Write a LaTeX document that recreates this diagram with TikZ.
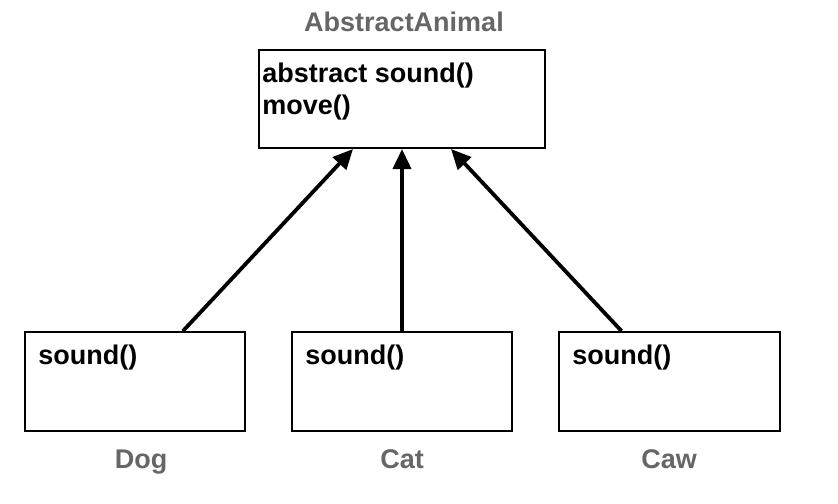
\documentclass[tikz,border=0pt]{standalone}
\usepackage{fontspec}
\setmainfont{Liberation Sans}
\usetikzlibrary{arrows.meta}
\definecolor{labelgray}{RGB}{102,102,102}

\begin{document}
\begin{tikzpicture}[x=0.5pt, y=-0.5pt,
    font=\fontsize{13.5}{16}\selectfont\bfseries,
    classbox/.style={draw, line width=1pt, minimum height=49.5pt, inner sep=0pt},
    methods/.style={anchor=base west, inner sep=0pt, align=left},
    classname/.style={text=labelgray, inner sep=0pt, anchor=base},
    inherit/.style={line width=1.9pt, -{Triangle[length=10pt, width=9pt]}}]
        \useasboundingbox (0,0) rectangle (838,503);

        \node[classbox, minimum width=143pt, minimum height=49pt] (animal) at (402,99) {};
        \node[classbox, minimum width=110pt] (dog) at (135,381.5) {};
        \node[classbox, minimum width=110pt] (cat) at (402,381.5) {};
        \node[classbox, minimum width=110.5pt] (caw) at (669.5,381.5) {};

        % base of a two-line node is its last line
        \node[methods] (animalops) at ([xshift=2pt, yshift=-32.5pt]animal.north west) {abstract sound()\\move()};
        \node[methods] (dogops) at ([xshift=7pt, yshift=-16.5pt]dog.north west) {sound()};
        \node[methods] (catops) at ([xshift=7pt, yshift=-16.5pt]cat.north west) {sound()};
        \node[methods] (cawops) at ([xshift=7pt, yshift=-16.5pt]caw.north west) {sound()};

        \node[classname] (animalname) at (404,32) {AbstractAnimal};
        \node[classname] (dogname) at (141,468) {Dog};
        \node[classname] (catname) at (402,468) {Cat};
        \node[classname] (cawname) at (669,468) {Caw};

        \draw[inherit] ([xshift=24pt]dog.north)  -- ([xshift=-24.5pt]animal.south);
        \draw[inherit] (cat.north)                -- (animal.south);
        \draw[inherit] ([xshift=-24pt]caw.north) -- ([xshift=24.5pt]animal.south);
\end{tikzpicture}
\end{document}
